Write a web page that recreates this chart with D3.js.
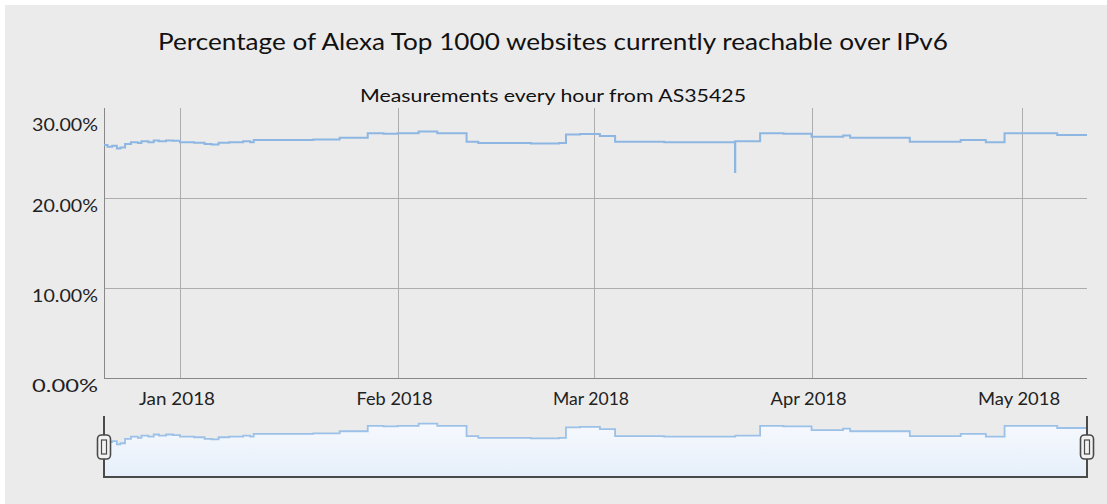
<!DOCTYPE html>
<html>
<head>
<meta charset="utf-8">
<script src="https://cdn.jsdelivr.net/npm/d3@7"></script>
<style>
  body { margin: 0; background: #fff; }
  svg { display: block; font-family: "Lato", "Noto Sans", sans-serif; }
</style>
</head>
<body>
<div class="mydiv"></div>
<script>
var width = 1107;
var height = 504;

var title = "Percentage of Alexa Top 1000 websites currently reachable over IPv6";
var subtitle = "Measurements every hour from AS35425";

// readings (time, % reachable), held until the next reading
var times = ["2017-12-21 04:00", "2017-12-21 16:00", "2017-12-22 08:00", "2017-12-23 00:00", "2017-12-23 12:00",
             "2017-12-24 04:00", "2017-12-25 00:00", "2017-12-26 00:00", "2017-12-26 12:00", "2017-12-27 12:00",
             "2017-12-28 06:00", "2017-12-29 00:00", "2017-12-30 00:00", "2017-12-31 00:00", "2018-01-01 00:00",
             "2018-01-03 00:00", "2018-01-04 12:00", "2018-01-05 12:00", "2018-01-06 12:00", "2018-01-08 00:00",
             "2018-01-10 00:00", "2018-01-11 00:00", "2018-01-11 12:00", "2018-01-16 00:00", "2018-01-20 00:00",
             "2018-01-23 18:00", "2018-01-27 18:00", "2018-01-30 00:00", "2018-02-01 00:00", "2018-02-04 00:00",
             "2018-02-06 16:00", "2018-02-10 20:00", "2018-02-12 12:00", "2018-02-18 00:00", "2018-02-20 00:00",
             "2018-02-24 00:00", "2018-02-25 00:00", "2018-02-27 00:00", "2018-03-01 20:00", "2018-03-04 00:00",
             "2018-03-11 00:00", "2018-03-21 02:00", "2018-03-21 03:00", "2018-03-24 16:00", "2018-03-28 00:00",
             "2018-04-01 00:00", "2018-04-05 12:00", "2018-04-06 12:00", "2018-04-15 00:00", "2018-04-22 06:00",
             "2018-04-25 20:00", "2018-04-28 12:00", "2018-05-06 00:00", "2018-05-10 06:00"];
var values = [25.9, 25.7, 25.8, 25.5, 25.6,
              26.0, 26.2, 26.1, 26.3, 26.2,
              26.4, 26.3, 26.4, 26.35, 26.2,
              26.15, 26.0, 25.95, 26.15, 26.2,
              26.3, 26.2, 26.45, 26.45, 26.5,
              26.7, 27.2, 27.15, 27.2, 27.4,
              27.2, 26.25, 26.1, 26.1, 26.05,
              26.1, 27.05, 27.1, 26.9, 26.25,
              26.2, 22.9, 26.3, 27.2, 27.15,
              26.8, 26.95, 26.7, 26.25, 26.45,
              26.2, 27.2, 27.0, 27.0];

var yTicks = [0, 10, 20, 30];
var monthTicks = ["2018-01-01", "2018-02-01", "2018-03-01", "2018-04-01", "2018-05-01"];

var parseTime = d3.timeParse("%Y-%m-%d %H:%M");
var parseDay = d3.timeParse("%Y-%m-%d");
var data = times.map(function(t, i) { return { t: parseTime(t), v: values[i] }; });

var plot = { left: 104, right: 1087, top: 108, bottom: 378 };
var mini = { top: 416, bottom: 477 };

var svg = d3.select(".mydiv").append("svg")
    .attr("width", width)
    .attr("height", height);

svg.append("rect")
    .attr("x", 5).attr("y", 5)
    .attr("width", width - 5).attr("height", height - 5)
    .attr("fill", "#ebebeb");

var x = d3.scaleTime()
    .domain([parseTime("2017-12-21 04:00"), parseTime("2018-05-10 06:00")])
    .range([plot.left, plot.right]);

var y = d3.scaleLinear()
    .domain([0, 30])
    .range([plot.bottom, plot.top]);

var yMini = d3.scaleLinear()
    .domain([22.5, 28.1])
    .range([mini.bottom, mini.top]);

// titles
svg.append("text")
    .attr("x", 553).attr("y", 50)
    .attr("text-anchor", "middle")
    .attr("font-size", 23)
    .attr("fill", "#111")
    .attr("textLength", 790)
    .attr("lengthAdjust", "spacingAndGlyphs")
    .text(title);

svg.append("text")
    .attr("x", 553).attr("y", 102)
    .attr("text-anchor", "middle")
    .attr("font-size", 17)
    .attr("fill", "#111")
    .attr("textLength", 386)
    .attr("lengthAdjust", "spacingAndGlyphs")
    .text(subtitle);

// grid
svg.append("g")
    .selectAll("line")
    .data(yTicks.filter(function(d) { return d > 0 && d < 30; }))
  .enter().append("line")
    .attr("x1", plot.left).attr("x2", plot.right)
    .attr("y1", function(d) { return Math.round(y(d)) + 0.5; })
    .attr("y2", function(d) { return Math.round(y(d)) + 0.5; })
    .attr("stroke", "#adadad");

svg.append("g")
    .selectAll("line")
    .data(monthTicks.map(parseDay))
  .enter().append("line")
    .attr("x1", function(d) { return Math.round(x(d)) + 0.5; })
    .attr("x2", function(d) { return Math.round(x(d)) + 0.5; })
    .attr("y1", plot.top).attr("y2", plot.bottom)
    .attr("stroke", "#adadad");

// axis lines
svg.append("line")
    .attr("x1", plot.left + 0.5).attr("x2", plot.left + 0.5)
    .attr("y1", plot.top).attr("y2", plot.bottom)
    .attr("stroke", "#888");
svg.append("line")
    .attr("x1", plot.left).attr("x2", plot.right)
    .attr("y1", plot.bottom + 0.5).attr("y2", plot.bottom + 0.5)
    .attr("stroke", "#888");

// labels
svg.append("g")
    .selectAll("text")
    .data(yTicks)
  .enter().append("text")
    .attr("x", 98)
    .attr("y", function(d) { return d === 30 ? y(d) + 23 : y(d) + 14; })
    .attr("text-anchor", "end")
    .attr("font-size", 17)
    .attr("fill", "#222")
    .attr("textLength", 66)
    .attr("lengthAdjust", "spacingAndGlyphs")
    .text(function(d) { return d3.format(".2f")(d) + "%"; });

svg.append("g")
    .selectAll("text")
    .data(monthTicks.map(parseDay))
  .enter().append("text")
    .attr("x", function(d) { return x(d) - 3; })
    .attr("y", 405)
    .attr("text-anchor", "middle")
    .attr("font-size", 17)
    .attr("fill", "#222")
    .attr("textLength", function(d) { return d.getMonth() === 4 ? 82 : 76; })
    .attr("lengthAdjust", "spacingAndGlyphs")
    .text(d3.timeFormat("%b %Y"));

// main line
var line = d3.line()
    .curve(d3.curveStepAfter)
    .x(function(d) { return x(d.t); })
    .y(function(d) { return y(d.v); });

svg.append("path")
    .datum(data)
    .attr("d", line)
    .attr("fill", "none")
    .attr("stroke", "#8db6e3")
    .attr("stroke-width", 2);

// range selector
var defs = svg.append("defs");
var grad = defs.append("linearGradient")
    .attr("id", "miniFill")
    .attr("x1", 0).attr("y1", 0).attr("x2", 0).attr("y2", 1);
grad.append("stop").attr("offset", "0%").attr("stop-color", "#f6f9fe");
grad.append("stop").attr("offset", "100%").attr("stop-color", "#e6effa");

var miniData = data.filter(function(d) { return d.v > 24; });

var area = d3.area()
    .curve(d3.curveStepAfter)
    .x(function(d) { return x(d.t); })
    .y0(mini.bottom)
    .y1(function(d) { return yMini(d.v); });

var miniLine = d3.line()
    .curve(d3.curveStepAfter)
    .x(function(d) { return x(d.t); })
    .y(function(d) { return yMini(d.v); });

svg.append("path")
    .datum(miniData)
    .attr("d", area)
    .attr("fill", "url(#miniFill)");

svg.append("path")
    .datum(miniData)
    .attr("d", miniLine)
    .attr("fill", "none")
    .attr("stroke", "#9cc1e8")
    .attr("stroke-width", 1.8);

svg.append("path")
    .attr("d", "M" + plot.left + "," + mini.top + "V" + mini.bottom + "H" + plot.right + "V" + mini.top)
    .attr("fill", "none")
    .attr("stroke", "#4a4a4a")
    .attr("stroke-width", 2);

[plot.left, plot.right].forEach(function(hx) {
  var g = svg.append("g").attr("transform", "translate(" + hx + ",447)");
  g.append("rect")
      .attr("x", -6.5).attr("y", -12)
      .attr("width", 13).attr("height", 24)
      .attr("rx", 4)
      .attr("fill", "#f2f2f2")
      .attr("stroke", "#4a4a4a")
      .attr("stroke-width", 1.6);
  g.append("rect")
      .attr("x", -2.5).attr("y", -7)
      .attr("width", 5).attr("height", 14)
      .attr("fill", "none")
      .attr("stroke", "#4a4a4a")
      .attr("stroke-width", 1.2);
});
</script>
</body>
</html>
